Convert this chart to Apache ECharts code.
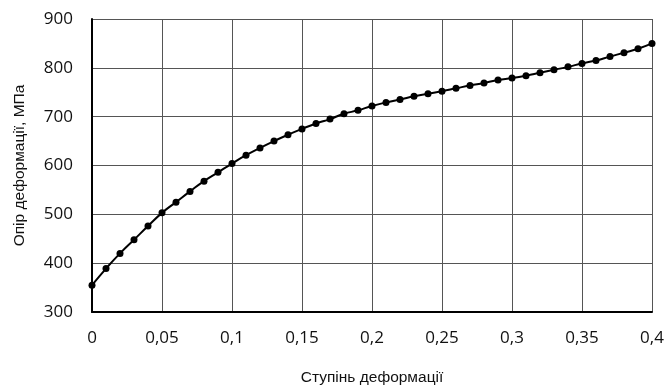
<!DOCTYPE html>
<html>
<head>
<meta charset="utf-8">
<script src="https://cdn.jsdelivr.net/npm/echarts@6/dist/echarts.min.js"></script>
<style>html,body{margin:0;padding:0;background:#fff}#c{width:666px;height:390px}</style>
</head>
<body>
<div id="c"></div>
<script>
var strain = [0,0.01,0.02,0.03,0.04,0.05,0.06,0.07,0.08,0.09,0.10,0.11,0.12,0.13,0.14,0.15,0.16,0.17,0.18,0.19,0.20,0.21,0.22,0.23,0.24,0.25,0.26,0.27,0.28,0.29,0.30,0.31,0.32,0.33,0.34,0.35,0.36,0.37,0.38,0.39,0.40];
var stress = [355,389,420,448,476,503,525,547,568,586,604,621,636,650,663,675,686,695,706,713,722,729,735,742,747,752,758,764,769,775,779,784,790,796,802,809,815,823,831,839,850];
var xName = 'Ступінь деформації';
var yName = 'Опір деформації, МПа';

var chart = echarts.init(document.getElementById('c'));
var font = '"Open Sans", "Noto Sans", sans-serif';
var nameFont = '"Liberation Sans", Arial, sans-serif';
chart.setOption({
  animation: false,
  grid: {left: 92, right: 14, top: 19, bottom: 78, containLabel: false, outerBoundsMode: 'none'},
  xAxis: {
    type: 'value', min: 0, max: 0.4, interval: 0.05,
    name: xName, nameLocation: 'middle', nameGap: 58,
    nameTextStyle: {fontFamily: nameFont, fontSize: 15.5, color: '#111'},
    axisLine: {show: true, onZero: false, lineStyle: {color: '#000', width: 2}},
    axisTick: {show: false},
    axisLabel: {margin: 18, fontFamily: font, fontSize: 17, color: '#111',
      formatter: function(v){ return String(+v.toFixed(2)).replace('.', ','); }},
    splitLine: {show: true, lineStyle: {color: '#555', width: 1}}
  },
  yAxis: {
    type: 'value', min: 300, max: 900, interval: 100,
    name: yName, nameLocation: 'middle', nameGap: 64,
    nameTextStyle: {fontFamily: nameFont, fontSize: 15.5, color: '#111'},
    axisLine: {show: true, onZero: false, lineStyle: {color: '#000', width: 2}},
    axisTick: {show: false},
    axisLabel: {margin: 19, fontFamily: font, fontSize: 17, color: '#111'},
    splitLine: {show: true, lineStyle: {color: '#555', width: 1}}
  },
  series: [{
    type: 'line',
    data: strain.map(function(x, i){ return [x, stress[i]]; }),
    smooth: true,
    symbol: 'circle', symbolSize: 7,
    itemStyle: {color: '#000'},
    lineStyle: {color: '#000', width: 2},
    clip: false
  }]
});
</script>
</body>
</html>
